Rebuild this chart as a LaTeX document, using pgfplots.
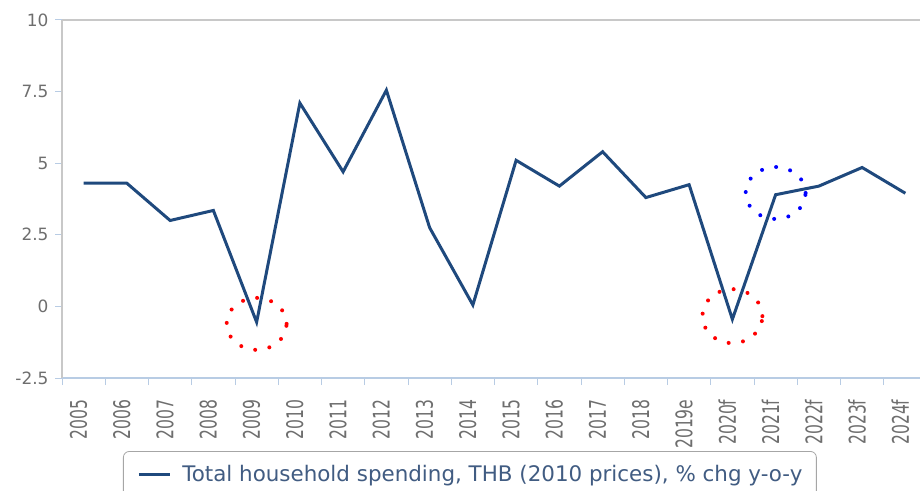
\documentclass[border=0pt]{standalone}
\usepackage{pgfplots}
\pgfplotsset{compat=1.18}
\usepackage{fontspec}
\setmainfont{DejaVu Sans}
\definecolor{linec}{RGB}{31,73,125}
\definecolor{tickc}{RGB}{184,204,228}
\definecolor{labc}{RGB}{110,110,110}
\definecolor{legc}{RGB}{65,92,130}
\definecolor{axc}{RGB}{200,200,200}
\newcommand\sx[1]{\scalebox{0.68}[1]{#1}}
\begin{document}
\begin{tikzpicture}
\path[use as bounding box] (0,0) rectangle (920bp,491bp);
\clip (0,0) rectangle (920bp,491bp);
\begin{axis}[
  at={(62bp,113bp)}, anchor=south west,
  width=865bp, height=358bp, scale only axis,
  xmin=-0.5, xmax=19.5, ymin=-2.5, ymax=10,
  axis x line*=bottom, axis y line*=left,
  x axis line style={draw=tickc, line width=1.2pt, -},
  y axis line style={draw=axc, line width=1.2pt, -},
  tick align=outside,
  major tick length=0pt,
  minor tick length=7bp,
  minor tick style={draw=tickc, line width=1pt},
  xtick={0,...,19},
  minor xtick={-0.5,0.5,...,19.5},
  xticklabels={\sx{2005},\sx{2006},\sx{2007},\sx{2008},\sx{2009},\sx{2010},\sx{2011},\sx{2012},\sx{2013},\sx{2014},\sx{2015},\sx{2016},\sx{2017},\sx{2018},\sx{2019e},\sx{2020f},\sx{2021f},\sx{2022f},\sx{2023f},\sx{2024f}},
  ytick={-2.5,0,2.5,5,7.5,10},
  minor ytick={-2.5,0,2.5,5,7.5,10},
  yticklabels={-2.5,0,2.5,5,7.5,10},
  x tick label style={xshift=-5bp, yshift=-18bp, rotate=90, anchor=east, font=\fontsize{23}{24}\selectfont, text=labc},
  y tick label style={xshift=-10bp, font=\fontsize{17}{20}\selectfont, text=labc},
  legend style={at={(rel axis cs:0.0705,-0.204)}, anchor=north west, draw=gray!70, rounded corners=6bp, line width=0.8pt, font=\fontsize{21.5}{24}\selectfont, text=legc, inner xsep=14bp, inner ysep=14bp, nodes={inner sep=0pt}},
  legend image code/.code={\draw[#1, line width=3bp] (0bp,0bp) -- (31bp,0bp); \path (42bp,0bp);},
  clip=false,
]
\addplot[linec, line width=3bp, line join=miter] coordinates {
  (0,4.3) (1,4.3) (2,3.0) (3,3.35) (4,-0.55) (5,7.1) (6,4.7) (7,7.55) (8,2.75) (9,0.05)
  (10,5.1) (11,4.2) (12,5.4) (13,3.8) (14,4.25) (15,-0.45) (16,3.9) (17,4.2) (18,4.85) (19,3.95)
};
\addlegendentry{Total household spending, THB (2010 prices), \% chg y-o-y}
\draw[axc, line width=1.2pt] (rel axis cs:0,1) -- (rel axis cs:1,1);
\draw[red, line width=4bp, line cap=round, dash pattern=on 0bp off 14.5bp] (axis cs:4,-0.61) ellipse [x radius=30bp, y radius=26bp];
\draw[red, line width=4bp, line cap=round, dash pattern=on 0bp off 14.5bp] (axis cs:15,-0.34) ellipse [x radius=30bp, y radius=27bp];
\draw[blue, line width=4bp, line cap=round, dash pattern=on 0bp off 14.5bp] (axis cs:16,3.96) ellipse [x radius=30bp, y radius=26bp];
\end{axis}
\end{tikzpicture}
\end{document}
